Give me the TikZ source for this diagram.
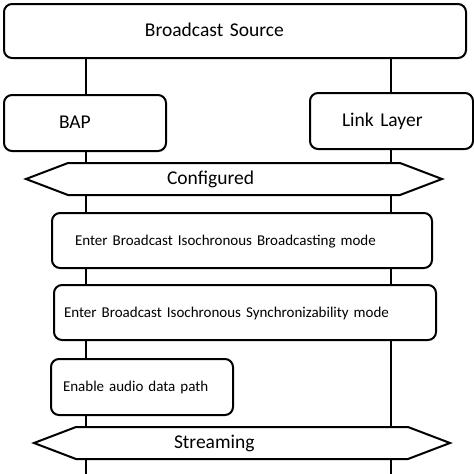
\documentclass[tikz,border=0pt]{standalone}
\usepackage{fontspec}
\setmainfont{Carlito}
\usetikzlibrary{shapes.symbols}
\begin{document}
\begin{tikzpicture}[x=1pt, y=-1pt,
    block/.style={draw, rectangle, rounded corners=8pt, fill=white, line width=2pt, inner sep=0pt, anchor=north west, align=left, text height=14.5pt, text depth=3.5pt, font=\fontsize{19.5}{23}\selectfont},
    stepbox/.style={block, text height=12pt, text depth=3pt, font=\fontsize{15}{18}\selectfont},
    state/.style={draw, signal, signal to=west and east, signal pointer angle=41.7, fill=white, line width=2pt, inner sep=0pt, text width=332pt, minimum height=32pt, align=left, text height=14.5pt, text depth=3.5pt, font=\fontsize{19.5}{23}\selectfont},
    lifeline/.style={line width=2.5pt}]
    \useasboundingbox[fill=white] (0,0) rectangle (474,474);

    \node[block, text width=462pt, minimum height=54pt] (src) at (3,3) {\hspace*{141pt}Broadcast Source};

    % lifelines
    \coordinate (bapend) at (86,474);
    \coordinate (llend) at (391,474);
    \draw[lifeline] (src.south -| bapend) -- (bapend);
    \draw[lifeline] (src.south -| llend) -- (llend);

    \node[block, text width=162pt, minimum height=56pt] (bap) at (3,94) {\hspace*{55pt}BAP};
    \node[block, text width=163pt, minimum height=56pt] (ll) at (309,92) {\hspace*{32pt}Link Layer};

    \node[state] (configured) at (234,179) {\hspace*{99pt}Configured};

    \node[stepbox, text width=380pt, minimum height=55pt] (bib) at (51,212) {\hspace*{23pt}Enter Broadcast Isochronous Broadcasting mode};
    \node[stepbox, text width=382pt, minimum height=55pt] (bis) at (53,284) {\hspace*{10pt}Enter Broadcast Isochronous Synchronizability mode};
    \node[stepbox, text width=182pt, minimum height=56pt] (path) at (50,358) {\hspace*{12pt}Enable audio data path};

    \node[state] (streaming) at (242,443) {\hspace*{98pt}Streaming};
\end{tikzpicture}
\end{document}
